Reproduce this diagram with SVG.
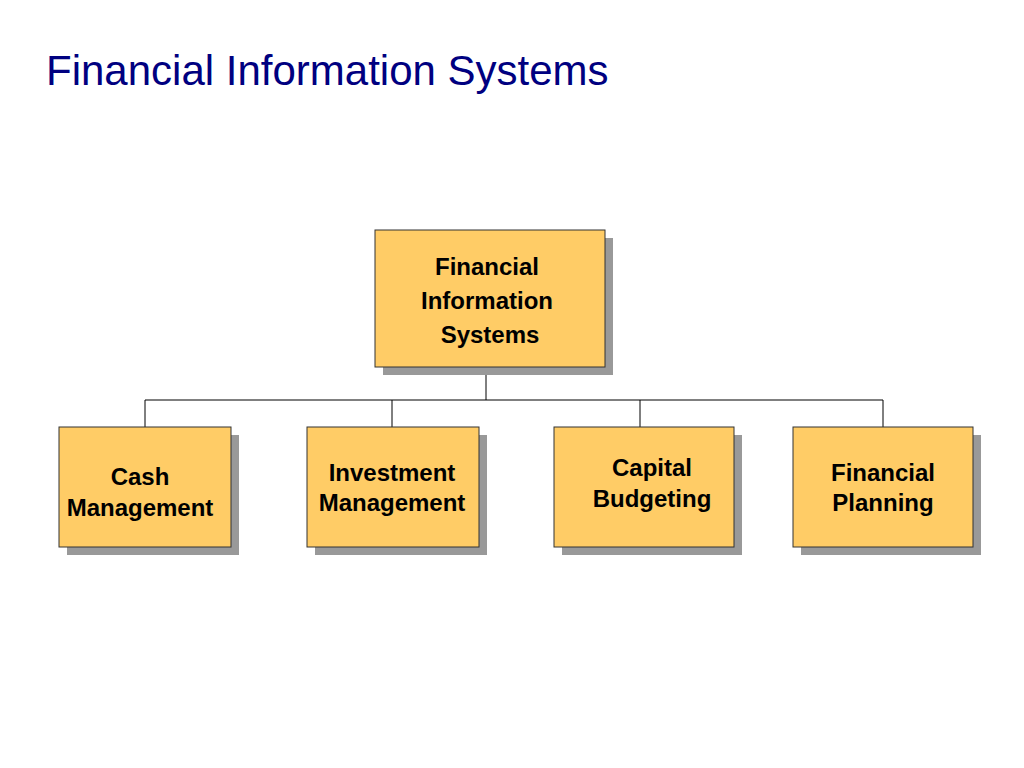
<svg xmlns="http://www.w3.org/2000/svg" width="1024" height="768" viewBox="0 0 1024 768">
<style>
.box{fill:#ffcc66;stroke:#333;stroke-width:1}
.sh{fill:#999}
.t{font-family:"Liberation Sans",Arial,sans-serif;font-weight:bold;font-size:24px;fill:#000;text-anchor:middle}
.c{stroke:#000;stroke-width:1;fill:none}
</style>
<rect width="1024" height="768" fill="#fff"/>
<text x="46" y="85" font-family="Liberation Sans,Arial,sans-serif" font-size="42" fill="#000080">Financial Information Systems</text>
<g id="connectors">
<path class="c" d="M486 367V400M145 400H883M145 400V427M392 400V427M640 400V427M883 400V427"/>
</g>
<g id="root"><rect class="sh" x="383" y="238" width="230" height="137"/><rect class="box" x="375" y="230" width="230" height="137"/>
<text class="t"><tspan x="487" y="275">Financial</tspan><tspan x="487" y="309">Information</tspan><tspan x="490" y="343">Systems</tspan></text></g>
<g id="cash"><rect class="sh" x="67" y="435" width="172" height="120"/><rect class="box" x="59" y="427" width="172" height="120"/>
<text class="t"><tspan x="140" y="485">Cash</tspan><tspan x="140" y="516">Management</tspan></text></g>
<g id="invest"><rect class="sh" x="315" y="435" width="172" height="120"/><rect class="box" x="307" y="427" width="172" height="120"/>
<text class="t"><tspan x="392" y="481">Investment</tspan><tspan x="392" y="511">Management</tspan></text></g>
<g id="capital"><rect class="sh" x="562" y="435" width="180" height="120"/><rect class="box" x="554" y="427" width="180" height="120"/>
<text class="t"><tspan x="652" y="476">Capital</tspan><tspan x="652" y="507">Budgeting</tspan></text></g>
<g id="planning"><rect class="sh" x="801" y="435" width="180" height="120"/><rect class="box" x="793" y="427" width="180" height="120"/>
<text class="t"><tspan x="883" y="481">Financial</tspan><tspan x="883" y="511">Planning</tspan></text></g>
</svg>
